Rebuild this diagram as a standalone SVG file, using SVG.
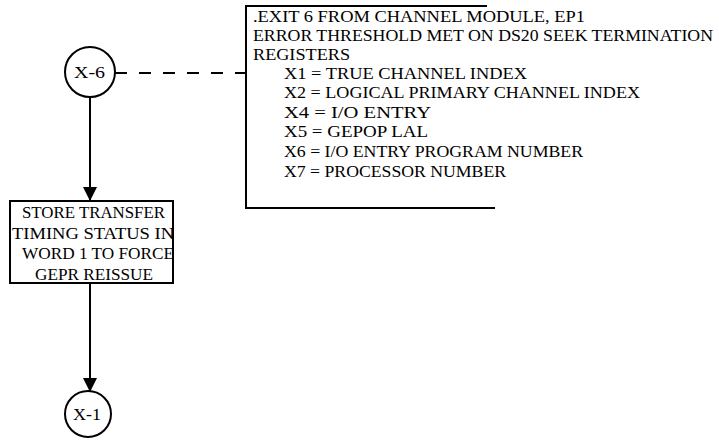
<svg xmlns="http://www.w3.org/2000/svg" width="719" height="444" viewBox="0 0 719 444">
<style>
.ln{stroke:#000;stroke-width:2;fill:none}
.t{font-family:"Liberation Serif","Times New Roman",serif;font-size:16px;fill:#000}
</style>
<defs>
<marker id="ah" markerWidth="16" markerHeight="14" refX="14" refY="7" orient="auto" markerUnits="userSpaceOnUse">
<path d="M0,0 L14,7 L0,14 Z" fill="#000"/>
</marker>
</defs>
<rect width="719" height="444" fill="#fff"/>
<g id="connectors">
<line class="ln" x1="90" y1="97" x2="90" y2="201" marker-end="url(#ah)"/>
<line class="ln" x1="90" y1="283" x2="90" y2="392" marker-end="url(#ah)"/>
<line class="ln" x1="115" y1="73" x2="246" y2="73" stroke-dasharray="12,12"/>
</g>
<g id="x6">
<circle class="ln" cx="90" cy="72" r="25"/>
<text class="t" x="74" y="78" textLength="31" lengthAdjust="spacingAndGlyphs">X-6</text>
</g>
<g id="note">
<path class="ln" d="M487,6 L246,6 L246,208 L495,208"/>
<text class="t" x="253" y="22" textLength="332" lengthAdjust="spacingAndGlyphs">.EXIT 6 FROM CHANNEL MODULE, EP1</text>
<text class="t" x="253" y="41" textLength="460" lengthAdjust="spacingAndGlyphs">ERROR THRESHOLD MET ON DS20 SEEK TERMINATION</text>
<text class="t" x="253" y="60" textLength="97" lengthAdjust="spacingAndGlyphs">REGISTERS</text>
<text class="t" x="284" y="79" textLength="243" lengthAdjust="spacingAndGlyphs">X1 = TRUE CHANNEL INDEX</text>
<text class="t" x="284" y="98" textLength="356" lengthAdjust="spacingAndGlyphs">X2 = LOGICAL PRIMARY CHANNEL INDEX</text>
<text class="t" x="284" y="118" textLength="147" lengthAdjust="spacingAndGlyphs">X4 = I/O ENTRY</text>
<text class="t" x="284" y="137" textLength="144" lengthAdjust="spacingAndGlyphs">X5 = GEPOP LAL</text>
<text class="t" x="284" y="157" textLength="299" lengthAdjust="spacingAndGlyphs">X6 = I/O ENTRY PROGRAM NUMBER</text>
<text class="t" x="284" y="177" textLength="222" lengthAdjust="spacingAndGlyphs">X7 = PROCESSOR NUMBER</text>
</g>
<g id="store">
<rect class="ln" x="10" y="201" width="163" height="82"/>
<text class="t" x="22" y="218" textLength="143" lengthAdjust="spacingAndGlyphs">STORE TRANSFER</text>
<text class="t" x="12" y="239" textLength="162" lengthAdjust="spacingAndGlyphs">TIMING STATUS IN</text>
<text class="t" x="22" y="259" textLength="152" lengthAdjust="spacingAndGlyphs">WORD 1 TO FORCE</text>
<text class="t" x="35" y="280" textLength="118" lengthAdjust="spacingAndGlyphs">GEPR REISSUE</text>
</g>
<g id="x1">
<circle class="ln" cx="88" cy="414" r="23"/>
<text class="t" x="73" y="420" textLength="28" lengthAdjust="spacingAndGlyphs">X-1</text>
</g>
</svg>
